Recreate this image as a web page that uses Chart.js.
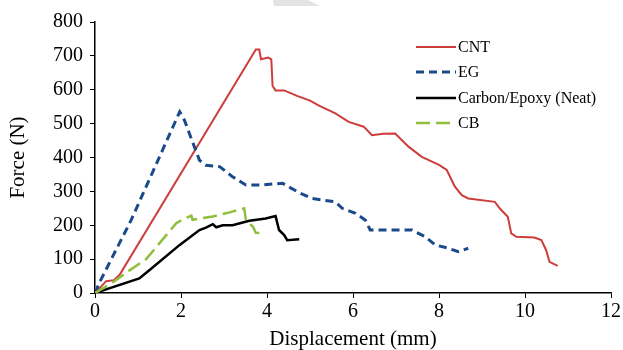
<!DOCTYPE html>
<html>
<head>
<meta charset="utf-8">
<title>Force vs Displacement</title>
<script src="https://cdn.jsdelivr.net/npm/chart.js@4"></script>
<style>
    html, body { margin: 0; padding: 0; background: #fff; }
    canvas { display: block; }
</style>
</head>
<body>
<canvas id="forceChart" width="623" height="350"></canvas>
<script>
// Series values (displacement in mm, force in N)
const seriesNames = ['CNT', 'EG', 'Carbon/Epoxy (Neat)', 'CB'];

const cntX = [0, 0.26, 0.44, 0.58, 3.74, 3.82, 3.86, 4.03, 4.1, 4.13, 4.2, 4.4, 4.7, 5.0, 5.21, 5.59, 5.9, 6.25, 6.44, 6.7, 6.98, 7.29, 7.6, 8.0, 8.18, 8.37, 8.53, 8.68, 9.3, 9.41, 9.6, 9.68, 9.8, 10.22, 10.38, 10.49, 10.57, 10.76];
const cntY = [0, 35, 38, 55, 719, 719, 690, 695, 690, 611, 598, 598, 582, 568, 553, 530, 505, 491, 466, 470, 471, 432, 402, 378, 363, 314, 289, 279, 269, 250, 225, 176, 166, 164, 156, 127, 92, 80];

const egX = [0, 0.1, 0.84, 1.97, 2.08, 2.28, 2.43, 2.58, 2.9, 3.2, 3.51, 3.9, 4.36, 4.75, 5.05, 5.59, 5.75, 6.06, 6.29, 6.4, 6.75, 7.37, 7.68, 7.91, 8.22, 8.45, 8.68];
const egY = [0, 30, 215, 535, 510, 442, 392, 377, 373, 343, 319, 319, 324, 296, 279, 269, 250, 235, 215, 186, 186, 186, 166, 142, 132, 122, 132];

const neatX = [0, 1.03, 1.27, 1.97, 2.43, 2.58, 2.74, 2.82, 2.97, 3.2, 3.59, 3.97, 4.2, 4.28, 4.4, 4.47, 4.6, 4.75];
const neatY = [0, 43, 68, 142, 186, 193, 203, 194, 200, 200, 213, 220, 227, 186, 171, 156, 157, 159];

const cbX = [0, 0.4, 0.76, 1.19, 1.89, 2.05, 2.24, 2.27, 2.43, 2.74, 3.13, 3.47, 3.51, 3.67, 3.74, 3.96];
const cbY = [0, 30, 63, 100, 206, 218, 228, 216, 220, 226, 238, 250, 215, 196, 178, 176];

const xTicks = [0, 2, 4, 6, 8, 10, 12];
const yTicks = [0, 100, 200, 300, 400, 500, 600, 700, 800];

const SERIF = '"Liberation Serif", "Times New Roman", serif';

function toPoints(xs, ys) {
    return xs.map((x, i) => ({ x: x, y: ys[i] }));
}

// Legend drawn as short line samples inside the plot, using each dataset's own style
const lineLegend = {
    id: 'lineLegend',
    afterDraw(chart) {
        const ctx = chart.ctx;
        const rows = [47, 72, 98, 123];
        ctx.save();
        chart.data.datasets.forEach((ds, i) => {
            const y = rows[i];
            ctx.beginPath();
            ctx.strokeStyle = ds.borderColor;
            ctx.lineWidth = ds.borderWidth;
            ctx.setLineDash(ds.borderDash || []);
            ctx.moveTo(416, y);
            ctx.lineTo(456, y);
            ctx.stroke();
            ctx.setLineDash([]);
            ctx.fillStyle = '#000';
            ctx.font = '16px ' + SERIF;
            ctx.textAlign = 'left';
            ctx.textBaseline = 'middle';
            ctx.fillText(ds.label, 458, y + 1);
        });
        ctx.restore();
    }
};

// Faint grey watermark fragment at the top edge
const watermark = {
    id: 'watermark',
    beforeDraw(chart) {
        const ctx = chart.ctx;
        ctx.save();
        ctx.fillStyle = '#e3e3e3';
        ctx.beginPath();
        ctx.moveTo(273, 0);
        ctx.lineTo(308, 0);
        ctx.lineTo(320, 6);
        ctx.lineTo(274, 6);
        ctx.closePath();
        ctx.fill();
        ctx.restore();
    }
};

const ctx = document.getElementById('forceChart');

new Chart(ctx.getContext('2d'), {
    type: 'scatter',
    data: {
        datasets: [{
            label: seriesNames[0],
            data: toPoints(cntX, cntY),
            borderColor: '#cc3d3b',
            borderWidth: 2,
            order: 4
        }, {
            label: seriesNames[1],
            data: toPoints(egX, egY),
            borderColor: '#1b4a8a',
            borderWidth: 3,
            borderDash: [8, 5],
            order: 3
        }, {
            label: seriesNames[2],
            data: toPoints(neatX, neatY),
            borderColor: '#000000',
            borderWidth: 2.5,
            order: 2
        }, {
            label: seriesNames[3],
            data: toPoints(cbX, cbY),
            borderColor: '#8fbf3c',
            borderWidth: 2.5,
            borderDash: [14, 6],
            order: 1
        }]
    },
    options: {
        responsive: false,
        animation: false,
        showLine: true,
        elements: {
            point: { radius: 0, hoverRadius: 0 },
            line: { tension: 0, fill: false }
        },
        layout: {
            padding: { left: 0, right: 10, top: 22, bottom: 0 }
        },
        plugins: {
            legend: { display: false },
            tooltip: { enabled: false }
        },
        scales: {
            x: {
                type: 'linear',
                min: xTicks[0],
                max: xTicks[xTicks.length - 1],
                afterBuildTicks: scale => { scale.ticks = xTicks.map(v => ({ value: v })); },
                afterFit: scale => { scale.height = 57; },
                grid: {
                    drawOnChartArea: false,
                    drawTicks: true,
                    tickLength: 5,
                    color: '#000',
                    tickColor: '#000'
                },
                border: { color: '#000', width: 1.5 },
                ticks: {
                    color: '#000',
                    padding: 2,
                    maxRotation: 0,
                    font: { family: SERIF, size: 20 }
                },
                title: {
                    display: true,
                    text: 'Displacement (mm)',
                    color: '#000',
                    padding: 0,
                    font: { family: SERIF, size: 21, lineHeight: 1 }
                }
            },
            y: {
                type: 'linear',
                min: yTicks[0],
                max: yTicks[yTicks.length - 1],
                afterBuildTicks: scale => { scale.ticks = yTicks.map(v => ({ value: v })); },
                afterFit: scale => { scale.width = 95; },
                grid: {
                    drawOnChartArea: false,
                    drawTicks: true,
                    tickLength: 5,
                    color: '#000',
                    tickColor: '#000'
                },
                border: { color: '#000', width: 1.5 },
                ticks: {
                    color: '#000',
                    padding: 7,
                    font: { family: SERIF, size: 20 }
                },
                title: {
                    display: true,
                    text: 'Force (N)',
                    color: '#000',
                    padding: { top: 8, bottom: 0 },
                    font: { family: SERIF, size: 21, lineHeight: 1 }
                }
            }
        }
    },
    plugins: [watermark, lineLegend]
});
</script>
</body>
</html>
